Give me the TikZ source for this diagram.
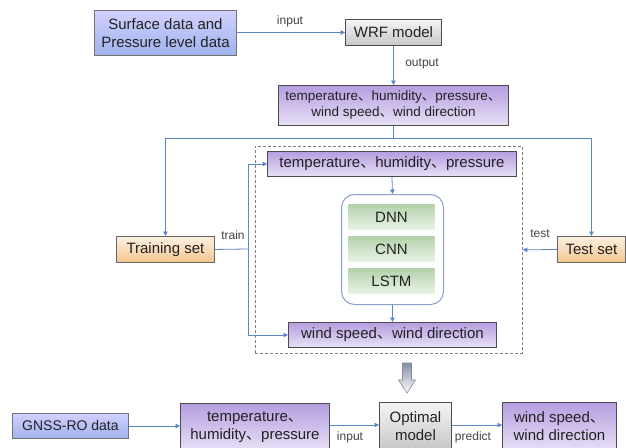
\documentclass[tikz,border=0pt]{standalone}
\usepackage{fontspec}
\setmainfont{Liberation Sans}
\newfontfamily\cjk{Noto Sans CJK SC}
\usetikzlibrary{arrows.meta,calc}
\newcommand{\dun}{{\cjk 、}}

\definecolor{linkblue}{HTML}{5B86C9}
\definecolor{txt}{HTML}{222222}

\tikzset{
  box/.style={draw=#1, line width=0.9pt, inner sep=0pt, align=center,
    text=txt, font=\fontsize{15}{18}\selectfont, anchor=north west},
  bluebox/.style={box=black!55, top color=blue!18!white, bottom color={rgb,255:red,160;green,178;blue,236}},
  graybox/.style={box=black!70, top color=white!96!black, bottom color=white!78!black},
  purplebox/.style={box=black!70, top color={rgb,255:red,181;green,158;blue,224}, bottom color={rgb,255:red,232;green,224;blue,246}},
  orangebox/.style={box=black!60, top color={rgb,255:red,252;green,240;blue,226}, bottom color={rgb,255:red,244;green,198;blue,142}},
  greenbox/.style={box=none, draw=none, top color={rgb,255:red,180;green,210;blue,172}, bottom color={rgb,255:red,234;green,243;blue,231}},
  link/.style={draw=linkblue, line width=0.8pt, -{Triangle[length=4.5pt,width=4.5pt]}},
  plain/.style={draw=linkblue, line width=0.8pt},
  lbl/.style={font=\fontsize{12}{14}\selectfont, text=txt!85, inner sep=0pt}
}

\begin{document}
\begin{tikzpicture}[x=1pt, y=-1pt]
  \useasboundingbox (0,0) rectangle (626,447);
  \fill[white] (0,0) rectangle (626,447);

  % top chain: inputs and the WRF run
  \node[bluebox, minimum width=142pt, minimum height=45pt] (surf) at (94,10)
    {Surface data and\\Pressure level data};
  \node[graybox, minimum width=96pt, minimum height=26pt] (wrf) at (345,19) {WRF model};
  \node[purplebox, minimum width=230pt, minimum height=40pt,
        font=\fontsize{13.5}{16}\selectfont] (vars) at (278,85)
    {temperature\dun humidity\dun pressure\dun\\wind speed\dun wind direction};

  % data split
  \node[orangebox, minimum width=98pt, minimum height=26pt] (trainset) at (116,236) {Training set};
  \node[orangebox, minimum width=68pt, minimum height=26pt] (testset) at (557,236) {Test set};

  % training frame
  \node[draw=black!50, dash pattern=on 3pt off 2pt, line width=0.8pt, anchor=north west,
        minimum width=267pt, minimum height=207pt, inner sep=0pt] (frame) at (255,146) {};
  \node[purplebox, minimum width=249pt, minimum height=25pt] (tin) at (267,151)
    {temperature\dun humidity\dun pressure};
  \node[draw={rgb,255:red,138;green,160;blue,200}, line width=1pt, rounded corners=13pt,
        fill=white, anchor=north west, minimum width=102pt, minimum height=110pt,
        inner sep=0pt] (models) at (341,194) {};
  \node[greenbox, minimum width=86pt, minimum height=25pt] (dnn) at (348,204) {DNN};
  \node[greenbox, minimum width=86pt, minimum height=25pt] (cnn) at (348,236) {CNN};
  \node[greenbox, minimum width=86pt, minimum height=25pt] (lstm) at (348,268) {LSTM};
  \node[purplebox, minimum width=208pt, minimum height=25pt] (wout) at (288,322)
    {wind speed\dun wind direction};

  % application chain
  \node[bluebox, minimum width=116pt, minimum height=25pt,
        font=\fontsize{14}{17}\selectfont] (gnss) at (12,413) {GNSS-RO data};
  \node[purplebox, minimum width=149pt, minimum height=47pt] (tin2) at (180,403)
    {temperature\dun\\humidity\dun pressure};
  \node[graybox, minimum width=72pt, minimum height=48pt] (opt) at (379,402)
    {Optimal\\model};
  \node[purplebox, minimum width=114pt, minimum height=48pt] (wind2) at (502,402)
    {wind speed\dun\\wind direction};

  % connectors, top chain
  \draw[link] (surf.east |- wrf.west) -- (wrf.west);
  \node[lbl] (lin) at (290,21) {input};
  \draw[link] (wrf.south) -- (vars.north);
  \node[lbl] (lout) at (422,64) {output};

  % split into training and test sets
  \coordinate (split) at ($(vars.south)+(0,12)$);
  \draw[plain] (vars.south) -- (split);
  \draw[link] (split) -| (trainset.north);
  \draw[link] (split) -| (testset.north);

  % training feed
  \coordinate (tj) at (248,249);
  \draw[plain] (trainset.east) -- (tj);
  \draw[link] (tj) |- (tin.west);
  \draw[link] (tj) |- (wout.west);
  \node[lbl] (ltrain) at (233,235) {train};

  % test feed
  \draw[link] (testset.west) -- (frame.east);
  \node[lbl] (ltest) at (540,234) {test};

  % inside the frame
  \draw[link] (tin.south) -- (models.north);
  \draw[link] (models.south) -- (wout.north);

  % hollow arrow to the selected model
  \draw[draw=black!45, line width=0.6pt, top color={rgb,255:red,128;green,142;blue,170}, bottom color=white]
    (402.5,363) -- (411.5,363) -- (411.5,380) -- (415.5,380) -- (407,393)
    -- (398.5,380) -- (402.5,380) -- cycle;

  % connectors, application chain
  \draw[link] (gnss.east) -- (gnss.east -| tin2.west);
  \draw[link] (tin2.east |- 0,425) -- (opt.west |- 0,425);
  \node[lbl] (lin2) at (350,437) {input};
  \draw[link] (opt.east |- 0,425) -- (wind2.west |- 0,425);
  \node[lbl] (lpred) at (473,437) {predict};
\end{tikzpicture}
\end{document}
